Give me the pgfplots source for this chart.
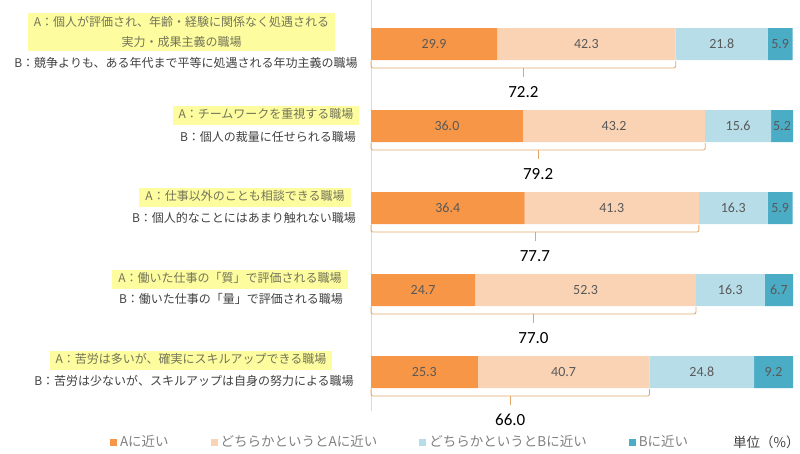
\documentclass[border=0pt]{standalone}
\usepackage{pgfplots}
\pgfplotsset{compat=1.18}
\usepackage{pgfplotstable}
\usepackage{fontspec}
\setmainfont{Noto Sans CJK JP}
\newfontfamily\numfont{Carlito}
\definecolor{cA}{HTML}{F79646}
\definecolor{cAB}{HTML}{FAD3B4}
\definecolor{cBA}{HTML}{B7DDE8}
\definecolor{cB}{HTML}{4BACC6}
\definecolor{brc}{HTML}{E2A66A}
\definecolor{hl}{HTML}{FDFD9F}
\definecolor{atext}{HTML}{74745A}
\definecolor{btext}{HTML}{404040}
\definecolor{numtext}{HTML}{595959}
\definecolor{legtext}{HTML}{808080}
\definecolor{vline}{HTML}{D9D9D9}

\pgfplotstableread{
y a ab ba b
44 29.9 42.3 21.8 5.9
126 36.0 43.2 15.6 5.2
208 36.4 41.3 16.3 5.9
290 24.7 52.3 16.3 6.7
372 25.3 40.7 24.8 9.2
}\datatable

\begin{document}
\begin{tikzpicture}
\useasboundingbox (0pt,0pt) rectangle (800pt,-453pt);
\draw[vline, line width=0.8pt] (371pt,0pt) -- (371pt,-411pt);
\begin{axis}[
  at={(371pt,0pt)}, anchor=north west,
  scale only axis, width=422pt, height=453pt,
  xmin=0, xmax=100, ymin=0, ymax=453, y dir=reverse,
  axis line style={draw=none}, ticks=none,
  clip=false,
  xbar stacked, bar width=32pt,
  /pgf/number format/assume math mode=true,
  nodes near coords={\pgfmathprintnumber[fixed,fixed zerofill,precision=1]{\pgfplotspointmeta}},
  every node near coord/.append style={font=\numfont\fontsize{14}{14}\selectfont, text=numtext},
  legend style={at={(axis cs:-62.6,442)}, anchor=west, draw=none, fill=none,
    legend columns=-1, font=\fontsize{13.5}{15}\selectfont, text=legtext,
    /tikz/every even column/.append style={column sep=40pt},
    /tikz/every odd column/.append style={column sep=1pt}},
  legend image code/.code={\fill[#1] (0pt,-3.5pt) rectangle (7pt,3.5pt);},
]
\addplot[fill=cA, draw=none] table[x=a,y=y]{\datatable};
\addplot[fill=cAB, draw=none] table[x=ab,y=y]{\datatable};
\addplot[fill=cBA, draw=none] table[x=ba,y=y]{\datatable};
\addplot[fill=cB, draw=none] table[x=b,y=y]{\datatable};
\addlegendentry{Aに近い}
\addlegendentry{どちらかというとAに近い}
\addlegendentry{どちらかというとBに近い}
\addlegendentry{Bに近い}
\addlegendimage{empty legend}
\addlegendentry{\textcolor{btext}{単位（\%）}}

% braces
\foreach \yc/\t in {44/72.2, 126/79.2, 208/77.7, 290/77.0, 372/66.0}{
  \edef\tmp{\noexpand\draw[brc, line width=0.8pt, rounded corners=2pt]
    (axis cs:0,\yc+17) -- (axis cs:0,\yc+24) -- (axis cs:\t,\yc+24) -- (axis cs:\t,\yc+17);
    \noexpand\draw[brc, line width=0.8pt] (axis cs:\t/2,\yc+24) -- (axis cs:\t/2,\yc+33);
    \noexpand\node[font=\noexpand\numfont\noexpand\fontsize{17}{17}\noexpand\selectfont, text=black] at (axis cs:\t/2,\yc+48) {\t};}
  \tmp
}
\end{axis}
% left labels
\begin{scope}[every node/.style={font=\fontsize{12}{20}\selectfont, align=center, inner sep=0pt}]
\node[fill=hl, text=atext, inner xsep=6pt, inner ysep=3pt] at (181.5pt,-32pt) {A：個人が評価され、年齢・経験に関係なく処遇される\\実力・成果主義の職場};
\node[text=btext] at (186pt,-63pt) {B：競争よりも、ある年代まで平等に処遇される年功主義の職場};
\node[fill=hl, text=atext, inner xsep=6pt, inner ysep=3pt, text height=10pt, text depth=3pt] at (266pt,-115pt) {A：チームワークを重視する職場};
\node[text=btext] at (268pt,-137pt) {B：個人の裁量に任せられる職場};
\node[fill=hl, text=atext, inner xsep=6pt, inner ysep=3pt, text height=10pt, text depth=3pt] at (245pt,-197pt) {A：仕事以外のことも相談できる職場};
\node[text=btext] at (244pt,-218pt) {B：個人的なことにはあまり触れない職場};
\node[fill=hl, text=atext, inner xsep=6pt, inner ysep=3pt, text height=10pt, text depth=3pt] at (230pt,-279pt) {A：働いた仕事の「質」で評価される職場};
\node[text=btext] at (231pt,-299pt) {B：働いた仕事の「量」で評価される職場};
\node[fill=hl, text=atext, inner xsep=6pt, inner ysep=3pt, text height=10pt, text depth=3pt] at (191pt,-360pt) {A：苦労は多いが、確実にスキルアップできる職場};
\node[text=btext] at (194pt,-381pt) {B：苦労は少ないが、スキルアップは自身の努力による職場};
\end{scope}
\end{tikzpicture}
\end{document}
